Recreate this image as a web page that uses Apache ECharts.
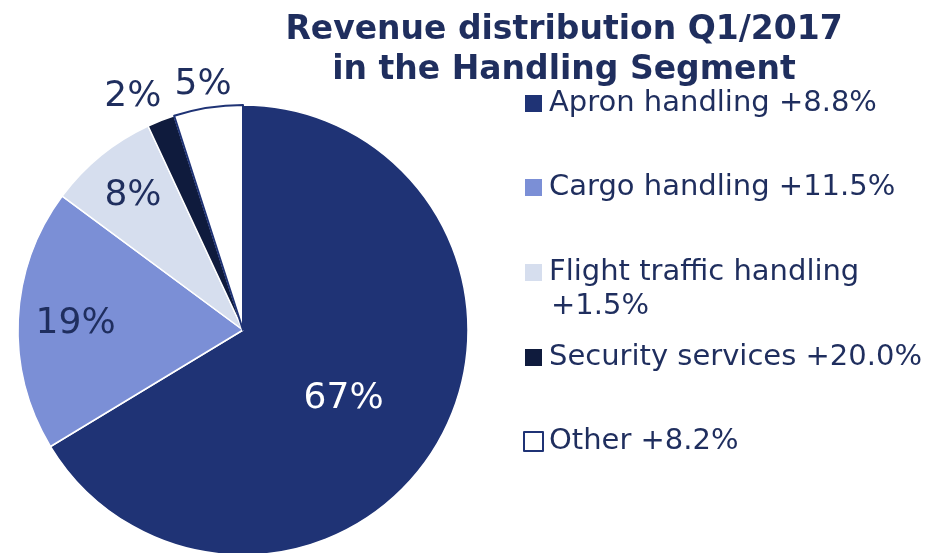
<!DOCTYPE html>
<html>
<head>
<meta charset="utf-8">
<script src="https://cdn.jsdelivr.net/npm/echarts@6/dist/echarts.min.js"></script>
<style>
  html, body { margin: 0; padding: 0; background: #fff; }
  #chart { width: 933px; height: 553px; }
</style>
</head>
<body>
<div id="chart"></div>
<script>
const SEGMENTS = ["Apron handling", "Cargo handling", "Flight traffic handling", "Security services", "Other"];
const SHARES = [67, 19, 8, 2, 5];
const GROWTH = ["+8.8%", "+11.5%", "+1.5%", "+20.0%", "+8.2%"];
const COLORS = ["#1f3375", "#7b8fd6", "#d6deee", "#0f1b3d", "#ffffff"];

const NAVY = "#1f2e5e";
const FONT = "DejaVu Sans";

// label nudges from the default inside spot; the two thin slices sit outside the rim
const LABEL_OFFSET = [[0, 12], [-52, -1], [-37, -45], [-68, -126], [-22, -131]];
const LEGEND_TOP = [89, 173, 258, 343, 427];

const chart = echarts.init(document.getElementById("chart"));

const pieData = SEGMENTS.map((name, i) => ({
  name,
  value: SHARES[i],
  itemStyle: {
    color: COLORS[i],
    borderColor: i === 4 ? "#1f3375" : "#ffffff",
    borderWidth: i === 4 ? 2 : 1.5,
  },
  label: {
    offset: LABEL_OFFSET[i],
    color: i === 0 ? "#ffffff" : NAVY,
  },
}));

const legends = SEGMENTS.map((name, i) => ({
  data: [name],
  left: 523,
  top: LEGEND_TOP[i],
  padding: 0,
  orient: "vertical",
  selectedMode: false,
  icon: "rect",
  itemWidth: 19,
  itemHeight: 19,
  itemGap: 0,
  itemStyle: i === 4 ? { borderColor: "#1f3375", borderWidth: 2 } : {},
  formatter: (n) => i === 2 ? n : n + " " + GROWTH[i],
  textStyle: { fontFamily: FONT, fontSize: 29, color: NAVY, padding: [0, 0, 0, 1] },
}));

chart.setOption({
  animation: false,
  title: {
    text: "Revenue distribution Q1/2017\nin the Handling Segment",
    left: 559,
    top: 5,
    textAlign: "center",
    textStyle: { fontFamily: FONT, fontSize: 33, fontWeight: "bold", color: NAVY, lineHeight: 40 },
  },
  legend: legends,
  graphic: [{
    type: "text",
    left: 551,
    top: 292,
    style: { text: GROWTH[2], fontFamily: FONT, fontSize: 29, fill: NAVY },
  }],
  series: [{
    type: "pie",
    center: [243, 330],
    radius: 225,
    startAngle: 90,
    clockwise: true,
    data: pieData,
    label: {
      show: true,
      position: "inside",
      formatter: "{c}%",
      fontFamily: FONT,
      fontSize: 36,
    },
    labelLine: { show: false },
    emphasis: { disabled: true },
  }],
});
</script>
</body>
</html>
